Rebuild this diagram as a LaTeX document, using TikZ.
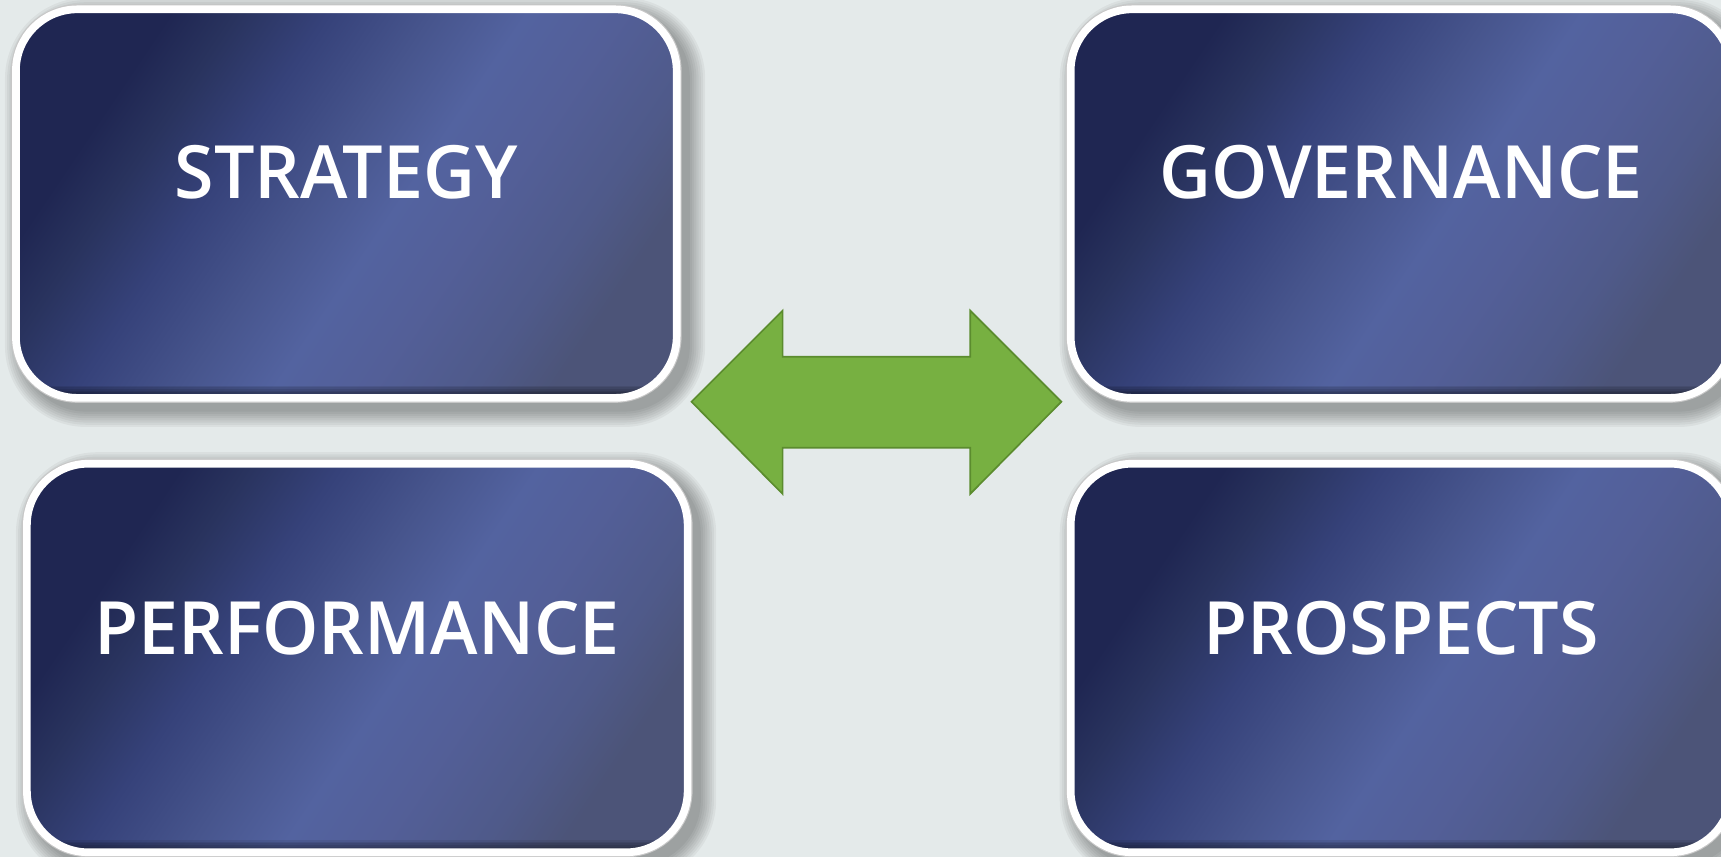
\documentclass[tikz,border=0pt]{standalone}
\usepackage{fontspec}
\IfFontExistsTF{Open Sans Semibold}
  {\newfontfamily\lblfont{Open Sans Semibold}[FakeStretch=0.975]}
  {\IfFontExistsTF{Open Sans SemiBold}
    {\newfontfamily\lblfont{Open Sans SemiBold}[FakeStretch=0.975]}
    {\newfontfamily\lblfont{Open Sans}[FakeBold=2.2, FakeStretch=0.975]}}
\usetikzlibrary{backgrounds}
\definecolor{bg}{HTML}{E4EAEA}
\definecolor{bA}{HTML}{1F2652}
\definecolor{bB}{HTML}{29335E}
\definecolor{bC}{HTML}{36427A}
\definecolor{bD}{HTML}{47558D}
\definecolor{bE}{HTML}{5363A0}
\definecolor{bF}{HTML}{535F98}
\definecolor{bG}{HTML}{4F5A8A}
\definecolor{bH}{HTML}{4C5478}
\definecolor{arrowfill}{HTML}{77B041}
\definecolor{arrowline}{HTML}{5B8C2E}
\pgfdeclarehorizontalshading{boxshade}{100bp}{color(0bp)=(bA); color(27bp)=(bA); color(32bp)=(bB); color(39bp)=(bC); color(47bp)=(bD); color(54bp)=(bE); color(61bp)=(bF); color(69bp)=(bG); color(75bp)=(bH); color(100bp)=(bH)}
\tikzset{
  box/.style={rectangle, rounded corners=56pt, minimum width=602pt, minimum height=354pt,
    inner sep=0pt, outer sep=0pt,
    preaction={draw=black!22, line width=9pt},
    shade, shading=boxshade, shading angle=-34},
  boxrim/.style={draw=white, line width=7pt, rounded corners=56pt},
  innershade/.style={fill=black, opacity=0.09},
  lbl/.style={text=white, inner sep=0pt, font=\lblfont\fontsize{67pt}{72pt}\selectfont},
  shadowlayer/.style={fill=black, opacity=0.045},
  greenarrow/.style={fill=arrowfill, draw=arrowline, line width=1.5pt, line join=miter}
}
\begin{document}
\begin{tikzpicture}[x=1pt, y=-1pt]
\useasboundingbox (0,0) rectangle (1568,780.8);
% boxes
\node[box] (s) at (315.5,185.5) {};
\node[box] (g) at (1276.5,185.5) {};
\node[box] (p) at (325.5,599.5) {};
\node[box] (r) at (1276.5,599.5) {};
% inner shadow at the bottom and white rims
\foreach \b in {s,g,p,r}{
  \begin{scope}
    \clip[rounded corners=56pt] (\b.north west) rectangle (\b.south east);
    \foreach \d in {0,1.5,...,7.5}{
      \fill[innershade] ([yshift={(3.5+\d)*1pt}]\b.south west) rectangle ([xshift=10pt]\b.south east);
    }
  \end{scope}
  \draw[boxrim] (\b.north west) rectangle (\b.south east);
}
% labels
\node[lbl, anchor=base] (st) at ([yshift=4.5pt]s.center) {STRATEGY};
\node[lbl, anchor=base] (gt) at ([yshift=4.5pt]g.center) {GOVERNANCE};
\node[lbl, anchor=base] (pt) at ([yshift=3.5pt]p.center) {PERFORMANCE};
\node[lbl, anchor=base] (rt) at ([yshift=3.5pt]r.center) {PROSPECTS};
% double arrow
\coordinate (al) at (630,366);
\coordinate (ar) at (967,366);
\draw[greenarrow] (al) -- (713,283) -- (713,325) -- (884,325) -- (884,283) -- (ar)
  -- (884,450) -- (884,408) -- (713,408) -- (713,450) -- cycle;
\begin{pgfonlayer}{background}
  \fill[bg] (0,0) rectangle (1568,780.8);
  \foreach \b in {s,g,p,r}{
    \foreach \d in {0,2,...,14}{
      \fill[shadowlayer, rounded corners={(60+\d)*1pt}]
        ([xshift={(4-\d)*1pt}, yshift={(-3.5+\d)*1pt}]\b.north west)
        rectangle ([xshift={(12+\d)*1pt}, yshift={(-12.5-\d)*1pt}]\b.south east);
    }
  }
\end{pgfonlayer}
\end{tikzpicture}
\end{document}
